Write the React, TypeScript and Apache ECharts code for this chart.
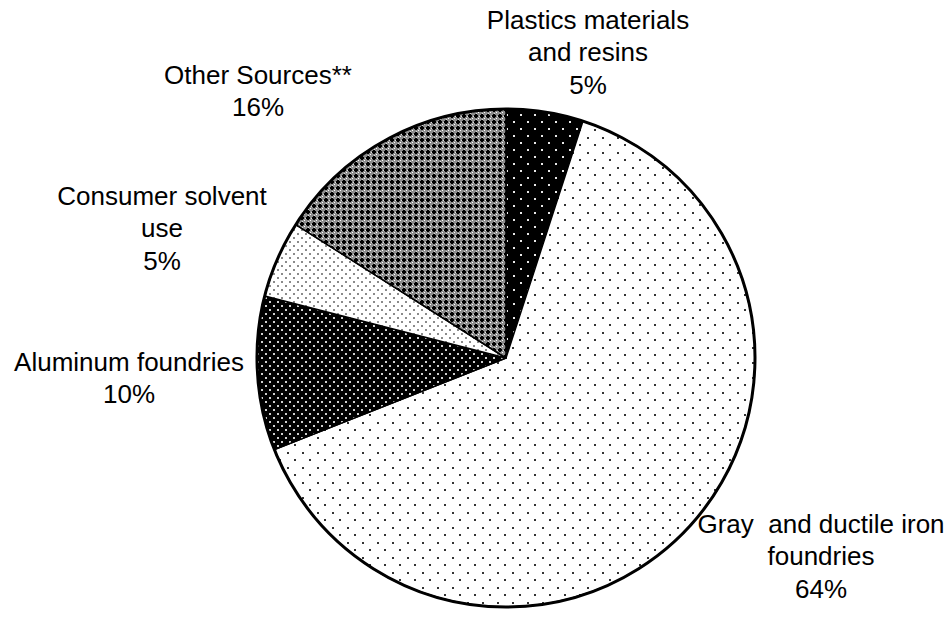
import React, { useEffect, useRef } from "react";
import * as echarts from "echarts";

const categories = [
  "Plastics materials\nand resins",
  "Gray  and ductile iron\nfoundries",
  "Aluminum foundries",
  "Consumer solvent\nuse",
  "Other Sources**",
];
const shares = [5, 64, 10, 5, 16];

// label block centres (layout, not data)
const labelPos: [number, number][] = [
  [588, 52],
  [821, 556],
  [129, 378],
  [162, 228],
  [258, 91],
];

type Rect = [number, number, number, number, string];
function tile(size: number, bg: string, rects: Rect[]): HTMLCanvasElement {
  const c = document.createElement("canvas");
  c.width = size;
  c.height = size;
  const ctx = c.getContext("2d")!;
  ctx.fillStyle = bg;
  ctx.fillRect(0, 0, size, size);
  rects.forEach(([x, y, w, h, col]) => {
    ctx.fillStyle = col;
    ctx.fillRect(x, y, w, h);
  });
  return c;
}

function patterns() {
  const plastics = tile(14, "#000", [
    [2, 2, 2, 2, "#e8e8e8"],
    [9, 9, 2, 2, "#e8e8e8"],
  ]);
  const gray = tile(15, "#fff", [
    [2, 2, 2, 2, "#333"],
    [9, 9, 2, 2, "#333"],
  ]);
  const alum = tile(8, "#000", [
    [1, 1, 2, 2, "#cfcfcf"],
    [5, 5, 2, 2, "#cfcfcf"],
  ]);
  const consumer = tile(8, "#fff", [
    [1, 1, 2, 2, "#8a8a8a"],
    [5, 5, 2, 2, "#8a8a8a"],
  ]);
  const other = tile(6, "#8c8c8c", [
    [1, 0, 2, 4, "#000"],
    [0, 1, 4, 2, "#000"],
    [4, 4, 1, 1, "#fff"],
    [5, 2, 1, 1, "#e0e0e0"],
    [2, 5, 1, 1, "#e0e0e0"],
  ]);
  return [plastics, gray, alum, consumer, other];
}

export default function App() {
  const ref = useRef<HTMLDivElement>(null);
  useEffect(() => {
    const chart = echarts.init(ref.current!, null, { renderer: "svg" });
    const pats = patterns();
    const data = categories.map((name, i) => ({
      name,
      value: shares[i],
      itemStyle: { color: { image: pats[i], repeat: "repeat" } as any },
    }));
    chart.setOption({
      animation: false,
      backgroundColor: "#fff",
      series: [
        {
          type: "pie",
          center: [506, 358],
          radius: 249,
          startAngle: 90,
          clockwise: true,
          silent: true,
          data,
          itemStyle: { borderColor: "#000", borderWidth: 1.5 },
          label: {
            show: true,
            formatter: (p: any) => `${p.name}\n${p.value}%`,
            fontFamily: "Liberation Sans, Arial, sans-serif",
            fontSize: 26,
            lineHeight: 32.5,
            color: "#000",
            align: "center",
            overflow: "none",
            width: 400,
          },
          labelLine: { show: false },
          labelLayout: (params: any) => {
            const p = labelPos[params.dataIndex];
            return { x: p[0], y: p[1], align: "center", verticalAlign: "middle" };
          },
        },
        {
          type: "pie",
          center: [506, 358],
          radius: 249,
          silent: true,
          z: 5,
          data: [{ value: 1, name: "outline" }],
          itemStyle: { color: "none", borderColor: "#000", borderWidth: 3 },
          label: { show: false },
          labelLine: { show: false },
        },
      ],
    });
    return () => chart.dispose();
  }, []);
  return (
    <div
      ref={ref}
      style={{ position: "absolute", left: 0, top: 0, width: 950, height: 630, background: "#fff" }}
    />
  );
}
